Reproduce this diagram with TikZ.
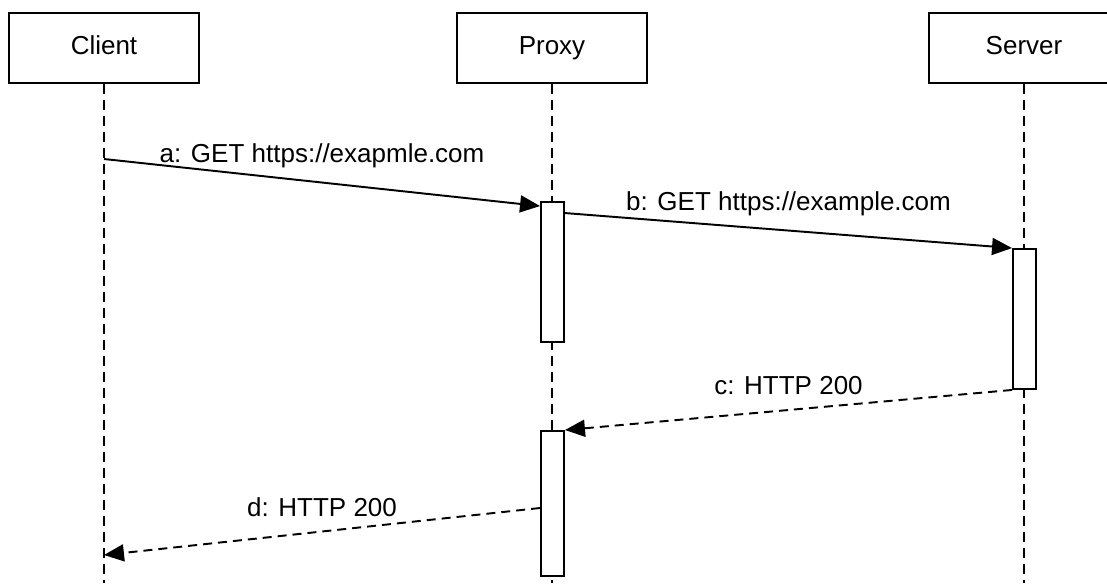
\documentclass[tikz,border=0pt]{standalone}
\usepackage{fontspec}
\setmainfont{Liberation Sans}
\usetikzlibrary{arrows.meta,positioning}

\begin{document}
\begin{tikzpicture}[x=0.02cm,y=-0.02cm,line width=1.1pt,
                    font=\fontsize{14.8}{17}\selectfont]
  \tikzstyle{actor}=[draw,fill=white,minimum width=3.8cm,minimum height=1.4cm,
                     text height=1.9ex,text depth=0.4ex]
  \tikzstyle{activation}=[draw,fill=white,minimum width=0.46cm,inner sep=0pt]
  \tikzstyle{lifeline}=[dash pattern=on 0.2cm off 0.12cm]
  \tikzstyle{call}=[-{Triangle[length=0.4cm,width=0.34cm]}]
  \tikzstyle{reply}=[call,dash pattern=on 0.18cm off 0.12cm]
  \tikzstyle{msg}=[midway,above=0.28cm,inner sep=0pt]

  \useasboundingbox (0,0) rectangle (1107,583);

  \node[actor] (client) at (104,48)  {Client};
  \node[actor] (proxy)  at (552,48)  {Proxy};
  \node[actor] (server) at (1024,48) {Server};
  \coordinate (bottom) at (0,583);

  % lifelines
  \foreach \p in {client,proxy,server}
    \draw[lifeline] (\p.south) -- (\p.south |- bottom);

  \node[activation,minimum height=2.8cm] (act1) at (552.5,272)   {};
  \node[activation,minimum height=2.8cm] (act2) at (1024.5,319)  {};
  \node[activation,minimum height=2.9cm] (act3) at (552.5,503.5) {};

  \coordinate (a0) at (104,159);
  \coordinate (d1) at (104,555);

  \draw[call] (a0) -- ([yshift=-0.1cm]act1.north west)
        node[msg] {a: GET https://exapmle.com};
  \draw[call] ([yshift=-0.24cm]act1.north east) -- (act2.north west)
        node[msg] {b: GET https://example.com};
  \draw[reply] (act2.south west) -- (act3.north east)
        node[msg] {c: HTTP 200};
  \draw[reply] ([yshift=-0.09cm]act3.west) -- (d1)
        node[msg] {d: HTTP 200};
\end{tikzpicture}
\end{document}
